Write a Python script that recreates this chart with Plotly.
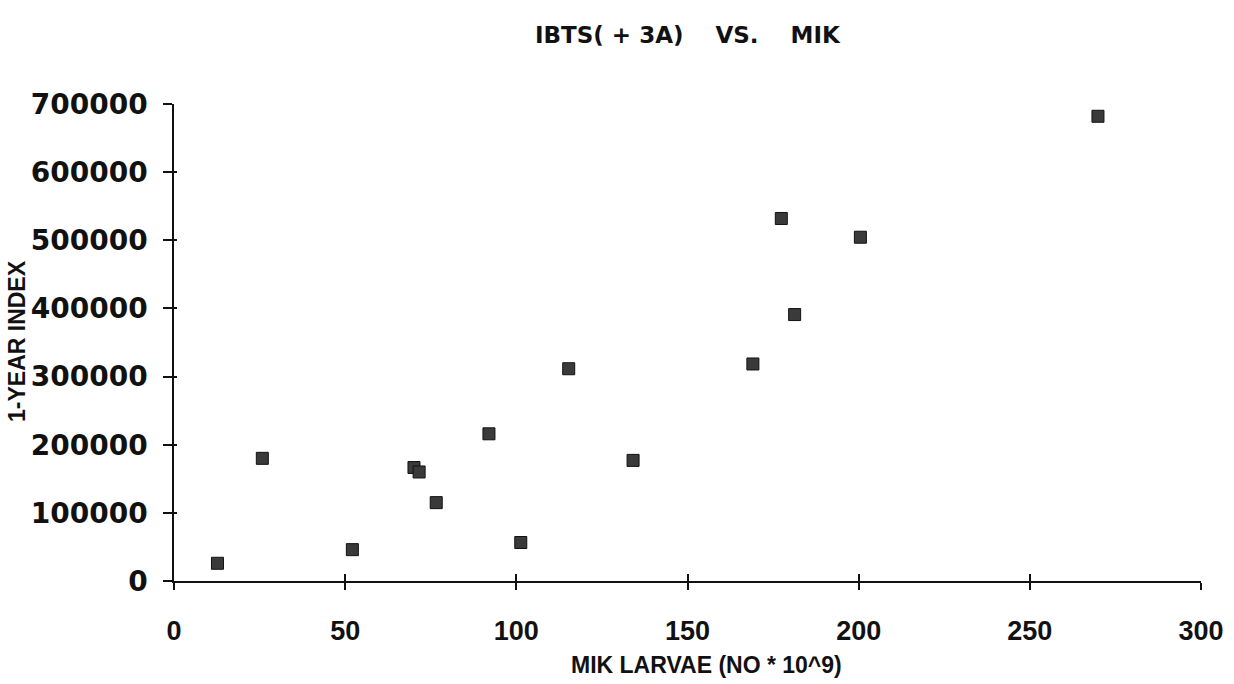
import plotly.graph_objects as go

# Data
mik_larvae = [12.7, 25.8, 52.1, 70.1, 71.6, 76.6, 92.0, 101.3, 115.3, 134.1,
              169.1, 181.3, 177.4, 200.5, 269.9]
one_year_index = [26000, 180000, 46000, 166500, 160000, 115000, 216000, 56500,
                  311500, 177000, 318500, 391000, 532000, 504500, 682000]
x_ticks = [0, 50, 100, 150, 200, 250, 300]
y_ticks = [0, 100000, 200000, 300000, 400000, 500000, 600000, 700000]

title_text = "IBTS(\u00a0+\u00a03A)\u00a0\u00a0\u00a0\u00a0VS.\u00a0\u00a0\u00a0\u00a0MIK"
x_title = "MIK LARVAE (NO * 10^9)"
y_title = "1-YEAR INDEX"

fig = go.Figure()
fig.add_trace(go.Scatter(
    x=mik_larvae, y=one_year_index, mode="markers",
    marker=dict(symbol="square", size=12, color="#3a3a3a",
                line=dict(color="#111111", width=1)),
    showlegend=False, hoverinfo="x+y"))

# invisible helper trace so the overlay tick axes (crossing ticks) are drawn
fig.add_trace(go.Scatter(x=[x_ticks[0], x_ticks[-1]], y=[y_ticks[0], y_ticks[-1]],
                         xaxis="x2", yaxis="y2", mode="lines",
                         line=dict(width=0, color="rgba(0,0,0,0)"),
                         showlegend=False, hoverinfo="skip"))

W, H = 1234, 684
L, R, T, B = 174, 33, 104, 103

fig.update_layout(
    width=W, height=H,
    margin=dict(l=L, r=R, t=T, b=B, autoexpand=False),
    paper_bgcolor="white", plot_bgcolor="white",
    showlegend=False,
    xaxis=dict(range=[0, 300], tickvals=x_ticks, ticktext=[str(v) for v in x_ticks],
               showgrid=False, zeroline=False, showline=True, linecolor="#111",
               linewidth=2, ticks="outside", ticklen=7, tickwidth=1.5, tickcolor="#111",
               tickfont=dict(family="Liberation Sans", size=27, color="#111", weight="bold"),
               ticklabelstandoff=18, fixedrange=True),
    xaxis2=dict(overlaying="x", anchor="y2", side="bottom",
                range=[0, 300], tickvals=x_ticks, showticklabels=False,
                showgrid=False, zeroline=False, showline=False,
                ticks="inside", ticklen=7, tickwidth=1.5, tickcolor="#111",
                fixedrange=True),
    yaxis=dict(range=[0, 700000], tickvals=y_ticks, ticktext=[str(v) for v in y_ticks],
               showgrid=False, zeroline=False, showline=True, linecolor="#111",
               linewidth=1.5, ticks="outside", ticklen=9, tickwidth=1.5, tickcolor="#111",
               tickfont=dict(family="DejaVu Sans", size=28, color="#111", weight="bold"),
               ticklabelstandoff=10, fixedrange=True),
    yaxis2=dict(overlaying="y", anchor="x2", side="left",
                range=[0, 700000], tickvals=y_ticks, showticklabels=False,
                showgrid=False, zeroline=False, showline=False,
                ticks="inside", ticklen=3, tickwidth=1.5, tickcolor="#111",
                fixedrange=True),
    annotations=[
        dict(text=title_text, xref="paper", yref="paper", x=0.5, y=(581 - 35) / 477,
             xanchor="center", yanchor="middle", showarrow=False,
             font=dict(family="DejaVu Sans", size=23, color="#111", weight="bold")),
        dict(text=x_title, xref="paper", yref="paper", x=(706 - 174) / 1027,
             y=-(665 - 581) / 477, xanchor="center", yanchor="middle", showarrow=False,
             font=dict(family="Liberation Sans", size=23, color="#111", weight="bold")),
        dict(text=y_title, xref="paper", yref="paper", x=(17 - 174) / 1027,
             y=(581 - 341) / 477, xanchor="center", yanchor="middle", showarrow=False,
             textangle=-90,
             font=dict(family="Liberation Sans", size=23, color="#111", weight="bold")),
    ],
)

fig.write_html("out.html")
